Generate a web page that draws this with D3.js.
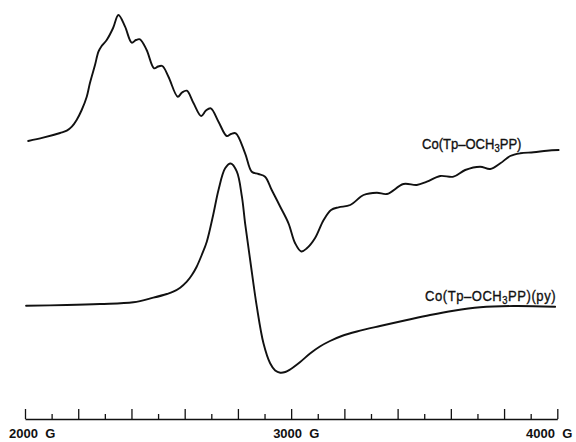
<!DOCTYPE html>
<html>
<head>
<meta charset="utf-8">
<script src="https://cdn.jsdelivr.net/npm/d3@7"></script>
<style>
  html, body { margin: 0; padding: 0; background: #fff; }
  svg { display: block; }
  text { fill: #111; }
</style>
</head>
<body>
<svg id="chart" width="576" height="442"></svg>
<script>
// ---- data (field in gauss, signal in arbitrary units) ----
const seriesNames = ["Co(Tp-OCH3PP)", "Co(Tp-OCH3PP)(py)"];

const fieldFree = [2012,2068,2132,2157,2176,2194,2213,2232,2244,2263,2276,2288,2307,2331,2351,2376,2401,2417,2432,2457,2485,2500,2516,2539,2574,2590,2608,2633,2662,2680,2698,2727,2758,2774,2792,2827,2852,2877,2902,2927,2959,2990,3015,3038,3059,3090,3122,3150,3178,3222,3272,3322,3360,3422,3472,3510,3560,3610,3654,3710,3748,3786,3823,3861,3911,3961,4005];
const signalFree = [259,262.3,267,269.3,273.3,280,290,303.3,317,335,348.3,354,360,372,385,373.3,357.3,360,360.7,350,331.7,333.5,334,323.3,303.3,307.5,309.3,297,284,289.5,291.7,278.3,264,266,266.7,246.7,228.3,226,223.3,210,193.3,176.7,156.7,148.5,151.7,162,180,190,192.7,195,205,207.3,206,216,215,218.3,224,223.3,230,233.3,231,236.7,244,246.7,247.7,249.3,250];

const fieldPy = [2004,2157,2282,2407,2482,2533,2557,2583,2608,2627,2645,2664,2683,2707,2727,2752,2773,2796,2815,2827,2846,2871,2896,2921,2940,2959,2978,2996,3034,3071,3108,3146,3190,3247,3334,3435,3522,3610,3710,3835,3992];
const signalPy = [94.3,95,96,97.7,102.3,106,108.3,112.3,118.3,125,133.3,145,158.3,185,210,231.7,236.5,228.3,203.3,176.7,140,93.3,56.7,36.7,29.5,27.3,28,30.5,38,46.5,53.5,59,64,68.5,74,80,85,89.3,92.7,94,93.3];

const majorTicks = [2000,2200,2400,2600,2800,3000,3200,3400,3600,3800,4000];
const minorTicks = [2100,2300,2500,2700,2900,3100,3300,3500,3700,3900];
const tickLabels = [{v:2000, t:"2000 G"},{v:3000, t:"3000 G"},{v:4000, t:"4000 G"}];

// ---- layout ----
const svg = d3.select("#chart");
const x = d3.scaleLinear().domain([2000, 4000]).range([25, 557.3]);
const y = d3.scaleLinear().domain([0, 400]).range([400, 0]);
const axisY = 419;

const line = d3.line()
  .x(d => x(d[0]))
  .y(d => y(d[1]))
  .curve(d3.curveCatmullRom.alpha(0.5));

const dataFree = fieldFree.map((f, i) => [f, signalFree[i]]);
const dataPy = fieldPy.map((f, i) => [f, signalPy[i]]);

[dataFree, dataPy].forEach(data => {
  svg.append("path").datum(data)
    .attr("d", line).attr("fill", "none")
    .attr("stroke", "#111").attr("stroke-width", 1.9)
    .attr("stroke-linejoin", "round").attr("stroke-linecap", "round");
});

// ---- axis ----
const axisG = svg.append("g").attr("transform", `translate(0,${axisY})`);
const majorAxis = d3.axisTop(x).tickValues(majorTicks).tickSize(10).tickFormat("").tickSizeOuter(0);
const minorAxis = d3.axisTop(x).tickValues(minorTicks).tickSize(5).tickFormat("").tickSizeOuter(0);
axisG.call(majorAxis);
axisG.append("g").call(minorAxis).select(".domain").remove();
axisG.selectAll(".domain").attr("stroke", "#111").attr("stroke-width", 1.3);
axisG.selectAll(".tick line").attr("stroke", "#111").attr("stroke-width", 1.3);

// tick labels
const labelFont = "'Liberation Sans', Arial, sans-serif";
tickLabels.forEach((d, i) => {
  const tx = x(d.v);
  const anchor = i === 2 ? "end" : "start";
  const px = i === 0 ? tx - 16 : (i === 1 ? tx - 18 : tx + 15);
  svg.append("text")
    .attr("x", px).attr("y", 437.5)
    .attr("text-anchor", anchor)
    .attr("font-family", labelFont)
    .attr("font-weight", "bold")
    .attr("font-size", 13)
    .attr("xml:space", "preserve")
    .text(d.t.replace(" ", "  "));
});

// series labels with subscript 3 (slightly condensed, like the typewriter original)
function addLabel(name, lx, ly, spacing) {
  const parts = name.split("3");
  const sx = 0.9;
  const t = svg.append("text")
    .attr("transform", `translate(${lx},${ly}) scale(${sx},1)`)
    .attr("font-family", labelFont)
    .attr("font-size", 14.5)
    .attr("letter-spacing", spacing)
    .attr("stroke", "#111").attr("stroke-width", 0.35);
  t.append("tspan").text(parts[0].replace("-", "\u2013"));
  t.append("tspan").attr("dy", 3).attr("font-size", 10.5).text("3");
  t.append("tspan").attr("dy", -3).text(parts[1]);
}
addLabel(seriesNames[0], 422, 148.5, 0);
addLabel(seriesNames[1], 425, 300.5, 0.6);
</script>
</body>
</html>
